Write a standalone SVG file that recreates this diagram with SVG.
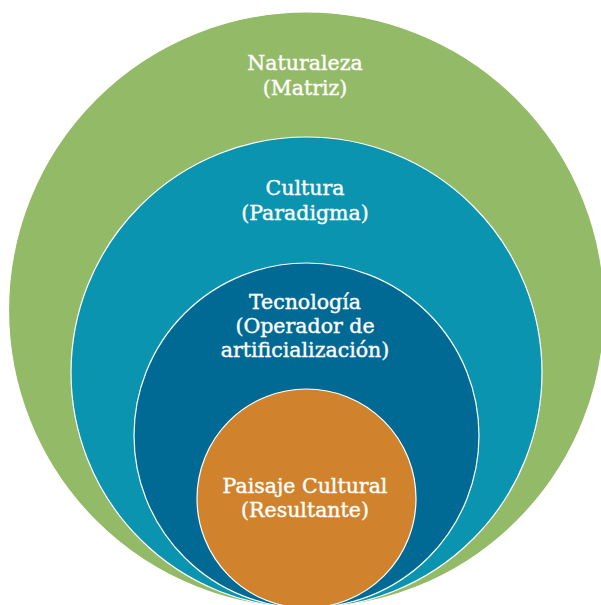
<svg xmlns="http://www.w3.org/2000/svg" width="601" height="605" viewBox="0 0 601 605">
<style>
.ring{stroke:#ffffff;stroke-width:1.2}
.lbl{font-family:"DejaVu Serif","Liberation Serif",serif;font-size:20.5px;fill:#ffffff;stroke:#ffffff;stroke-width:0.4;text-anchor:middle}
</style>
<rect width="601" height="605" fill="#ffffff"/>
<g id="naturaleza">
<circle class="ring" cx="306.5" cy="310" r="298" fill="#93BA66" stroke="none"/>
<text class="lbl" x="305" y="70">Naturaleza</text>
<text class="lbl" x="305" y="95">(Matriz)</text>
</g>
<g id="cultura">
<circle class="ring" cx="306.5" cy="372.5" r="235.5" fill="#0B94B0"/>
<text class="lbl" x="305" y="195">Cultura</text>
<text class="lbl" x="305" y="220">(Paradigma)</text>
</g>
<g id="tecnologia">
<circle class="ring" cx="306.5" cy="435.5" r="172.5" fill="#006A94"/>
<text class="lbl" x="305" y="309">Tecnología</text>
<text class="lbl" x="305" y="333">(Operador de</text>
<text class="lbl" x="305" y="357">artificialización)</text>
</g>
<g id="paisaje">
<circle class="ring" cx="306.5" cy="498.5" r="109.5" fill="#D0832C"/>
<text class="lbl" x="305" y="493">Paisaje Cultural</text>
<text class="lbl" x="305" y="517">(Resultante)</text>
</g>
<g id="connectors"/>
</svg>
